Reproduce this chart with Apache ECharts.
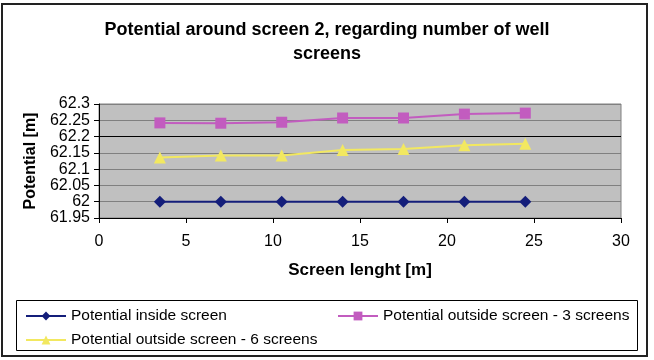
<!DOCTYPE html>
<html>
<head>
<meta charset="utf-8">
<script src="https://cdn.jsdelivr.net/npm/echarts@6/dist/echarts.min.js"></script>
<style>
  html, body { margin: 0; padding: 0; background: #fff; }
  #main { width: 654px; height: 360px; }
</style>
</head>
<body>
<div id="main"></div>
<script>
// screen lengths [m]
var screenLength = [3.5, 7, 10.5, 14, 17.5, 21, 24.5];
// potentials [m]
var insideScreen = [62, 62, 62, 62, 62, 62, 62];
var outside3 = [62.242, 62.241, 62.244, 62.257, 62.257, 62.269, 62.272];
var outside6 = [62.136, 62.142, 62.142, 62.159, 62.162, 62.173, 62.178];
var seriesNames = [
  "Potential inside screen",
  "Potential outside screen - 3 screens",
  "Potential outside screen - 6 screens"
];

function pairs(ys) {
  var out = [];
  for (var i = 0; i < screenLength.length; i++) out.push([screenLength[i], ys[i]]);
  return out;
}

var font = "Liberation Sans, Arial, sans-serif";
var myChart = echarts.init(document.getElementById("main"));

var option = {
  animation: false,
  backgroundColor: "#fff",
  textStyle: { fontFamily: font },
  title: {
    text: "Potential around screen 2, regarding number of well\nscreens",
    left: "center",
    top: 13,
    textStyle: { fontSize: 18, fontWeight: "bold", color: "#000", lineHeight: 24, fontFamily: font }
  },
  grid: { left: 99, right: 33, top: 104, bottom: 142, show: true, backgroundColor: "#c0c0c0", borderColor: "#808080", borderWidth: 1 },
  xAxis: {
    type: "value",
    min: 0, max: 30, interval: 5,
    name: "Screen lenght [m]",
    nameLocation: "middle",
    nameGap: 44,
    nameTextStyle: { fontSize: 17, fontWeight: "bold", color: "#000" },
    axisLine: { onZero: false, lineStyle: { color: "#000", width: 1 } },
    axisTick: { show: true, length: 5, lineStyle: { color: "#000" } },
    axisLabel: { fontSize: 16, color: "#000", margin: 16 },
    splitLine: { show: false }
  },
  yAxis: {
    type: "value",
    min: 61.95, max: 62.3, interval: 0.05,
    name: "Potential [m]",
    nameLocation: "middle",
    nameGap: 55,
    nameTextStyle: { fontSize: 16, fontWeight: "bold", color: "#000" },
    axisLine: { show: true, lineStyle: { color: "#000", width: 1 } },
    axisTick: { show: true, length: 5, lineStyle: { color: "#000" } },
    axisLabel: {
      fontSize: 16, color: "#000", margin: 9,
      formatter: function (v) { return String(Math.round(v * 100) / 100); }
    },
    splitLine: {
      show: true,
      lineStyle: { color: ["#808080", "#808080", "#808080", "#808080", "#808080", "#000", "#808080", "#808080"], width: 1 }
    }
  },
  legend: [
    {
      data: [seriesNames[0], seriesNames[2]],
      orient: "vertical",
      left: 20, top: 303,
      itemWidth: 40, itemHeight: 11,
      itemGap: 8,
      textStyle: { fontSize: 15.5, color: "#000", fontFamily: font }
    },
    {
      data: [seriesNames[1]],
      left: 332, top: 303,
      itemWidth: 40, itemHeight: 11,
      textStyle: { fontSize: 15.5, color: "#000", fontFamily: font }
    }
  ],
  graphic: [
    { type: "rect", shape: { x: 2, y: 4, width: 645, height: 352 }, style: { fill: null, stroke: "#222", lineWidth: 2 }, silent: true },
    { type: "rect", shape: { x: 16.5, y: 300.5, width: 621, height: 50 }, style: { fill: null, stroke: "#000", lineWidth: 1 }, silent: true }
  ],
  series: [
    {
      name: seriesNames[0], type: "line", data: pairs(insideScreen),
      symbol: "diamond", symbolSize: 12,
      lineStyle: { color: "#141e7a", width: 2 },
      itemStyle: { color: "#141e7a" }
    },
    {
      name: seriesNames[1], type: "line", data: pairs(outside3),
      symbol: "rect", symbolSize: 11,
      lineStyle: { color: "#c25cbf", width: 2 },
      itemStyle: { color: "#c25cbf" }
    },
    {
      name: seriesNames[2], type: "line", data: pairs(outside6),
      symbol: "triangle", symbolSize: 12,
      lineStyle: { color: "#f2e860", width: 2 },
      itemStyle: { color: "#f2e860" }
    }
  ]
};

myChart.setOption(option);
</script>
</body>
</html>
